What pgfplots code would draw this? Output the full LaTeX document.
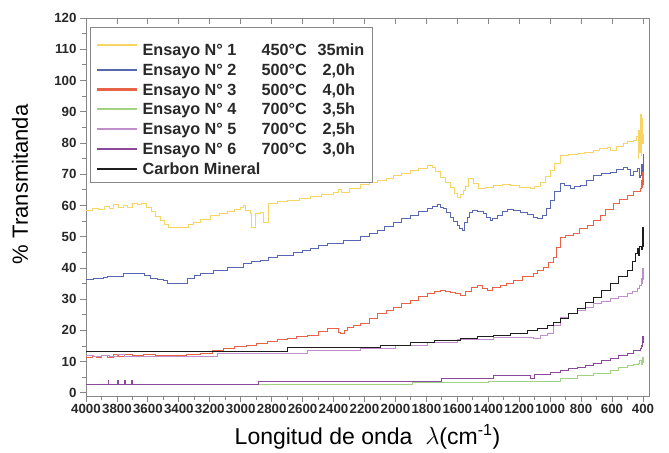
\documentclass[border=0pt]{standalone}
\usepackage{pgfplots}
\pgfplotsset{compat=1.18}
\usepackage{fontspec}
\setmainfont{Liberation Sans}
\definecolor{c1}{RGB}{248,212,100}
\definecolor{c2}{RGB}{88,104,176}
\definecolor{c3}{RGB}{232,98,72}
\definecolor{c4}{RGB}{160,210,130}
\definecolor{c5}{RGB}{192,142,202}
\definecolor{c6}{RGB}{140,72,155}
\definecolor{c7}{RGB}{30,30,30}
\definecolor{framegray}{RGB}{135,135,135}
\definecolor{labgray}{RGB}{40,40,40}
\pgfplotsset{
  leg/.style={legend image code/.code={\draw[#1,line width=2.2pt] (0pt,0.5pt) -- (40pt,0.5pt);}},
}
\newcommand{\ent}[3]{\hspace{2pt}\makebox[119pt][l]{#1}\makebox[56pt][l]{#2}#3}
\begin{document}
\begin{tikzpicture}
\begin{axis}[name=main,
  scale only axis, width=563pt, height=378pt,
  xmin=361, xmax=4000, ymin=-1, ymax=120, x dir=reverse,
  xtick={400,600,...,4000}, minor x tick num=1,
  ytick={0,10,...,120}, minor y tick num=1,
  xtick pos=bottom, ytick pos=left, tick align=outside,
  major tick length=6pt, minor tick length=3.5pt,
  axis line style={draw=framegray, line width=0.9pt},
  every tick/.style={draw=framegray, line width=0.8pt},
  tick label style={font=\fontsize{13.3}{15}\selectfont\bfseries, text=labgray},
  xticklabel style={inner xsep=0pt, inner ysep=2pt},
  /pgf/number format/assume math mode=true, /pgf/number format/1000 sep={},
  scaled x ticks=false, scaled y ticks=false,
  xlabel={Longitud de onda \ $\lambda$(cm\textsuperscript{-1})},
  ylabel={\% Transmitanda},
  xlabel style={font=\fontsize{23}{26}\selectfont, at={(axis description cs:0.5,-0.108)}, anchor=center},
  ylabel style={font=\fontsize{22}{25}\selectfont, at={(axis description cs:-0.117,0.56)}, anchor=center},
  legend style={at={(axis description cs:0.0071,0.976)}, anchor=north west,
    draw=framegray, line width=0.8pt, fill=white,
    font=\fontsize{16.2}{18}\selectfont\bfseries, text=labgray,
    inner xsep=6pt, inner ysep=4.5pt, row sep=2.6pt},
  legend cell align=left,
  every axis plot/.append style={const plot, line width=0.8pt},
]
\addplot[c1, leg=c1] coordinates {
(4000,58.5)(3960,59.2)(3920,58.6)(3880,59.6)(3850,58.9)(3820,60.2)(3790,59.4)(3760,60.0)(3730,59.3)(3700,60.7)(3670,60.2)(3640,60.5)(3610,59.4)(3580,58.0)(3550,56.5)(3520,55.3)(3490,54.0)(3470,53.0)(3380,53.0)(3340,53.8)(3308,54.6)(3260,55.6)(3198,56.9)(3140,57.6)(3089,58.1)(3040,58.8)(3005,59.4)(2985,60.0)(2970,58.5)(2940,57.5)(2930,53.0)(2915,53.0)(2908,57.5)(2875,57.8)(2855,54.6)(2845,54.6)(2823,60.7)(2760,61.2)(2700,61.6)(2620,62.3)(2552,62.9)(2480,63.5)(2403,64.2)(2370,65.0)(2350,64.3)(2300,65.6)(2229,66.8)(2170,67.5)(2119,68.0)(2060,68.8)(2015,69.7)(1960,70.4)(1906,71.3)(1850,72.0)(1796,72.8)(1763,72.3)(1740,70.8)(1712,69.0)(1680,67.3)(1647,65.8)(1620,64.0)(1602,62.7)(1580,63.5)(1563,64.8)(1545,66.0)(1531,68.6)(1498,67.0)(1466,65.5)(1420,65.9)(1369,66.4)(1310,66.8)(1259,66.4)(1200,65.8)(1130,65.5)(1100,66.2)(1065,67.4)(1030,69.2)(1001,71.3)(970,73.5)(936,76.0)(880,76.3)(826,76.6)(780,77.0)(723,77.6)(680,78.1)(632,78.6)(613,77.6)(570,78.9)(529,79.9)(500,80.4)(464,80.8)(440,82.0)(432,75.0)(428,84.0)(422,77.0)(418,89.0)(412,76.0)(408,88.0)(404,80.0)(400,83.0)
};
\addlegendentry{\rule[-3.5pt]{0pt}{25pt}\ent{Ensayo N° 1}{450°C}{35min}}
\addplot[c2, leg=c2] coordinates {
(4000,36.3)(3950,36.5)(3890,36.9)(3860,37.2)(3800,37.4)(3761,38.3)(3700,38.3)(3651,38.3)(3620,37.5)(3586,36.7)(3540,36.3)(3502,36.0)(3476,35.1)(3392,35.2)(3347,36.7)(3300,37.5)(3263,38.3)(3179,39.3)(3089,40.2)(2985,41.5)(2930,42.0)(2875,42.5)(2820,43.3)(2765,44.1)(2662,45.0)(2600,45.7)(2552,46.3)(2500,47.1)(2442,47.9)(2339,48.9)(2229,50.2)(2170,51.2)(2119,52.0)(2070,53.3)(2015,54.6)(1960,55.7)(1906,56.9)(1850,58.0)(1796,59.1)(1760,59.8)(1731,60.3)(1710,59.4)(1692,59.1)(1670,57.8)(1647,56.3)(1625,55.0)(1602,53.7)(1585,52.8)(1570,52.0)(1555,54.5)(1537,56.3)(1520,57.8)(1505,58.5)(1470,58.2)(1434,57.5)(1410,56.3)(1389,55.3)(1370,56.0)(1343,56.9)(1310,58.0)(1279,58.8)(1240,58.4)(1195,57.8)(1150,57.0)(1111,56.3)(1080,56.0)(1052,56.9)(1025,59.0)(1001,61.6)(970,64.5)(936,67.0)(905,66.4)(872,65.5)(840,66.0)(807,66.4)(765,68.0)(723,69.7)(670,70.2)(613,70.6)(570,71.5)(529,72.3)(500,71.5)(484,69.7)(460,71.0)(439,71.9)(425,69.0)(419,69.5)(412,73.0)(405,71.0)(400,76.6)
};
\addlegendentry{\rule[-3.5pt]{0pt}{15pt}\ent{Ensayo N° 2}{500°C}{\hspace{5pt}2,0h}}
\addplot[c3, leg=c3] coordinates {
(4000,11.2)(3960,11.8)(3930,11.3)(3900,12.0)(3860,11.5)(3820,12.2)(3790,11.7)(3750,12.3)(3700,12.0)(3632,12.4)(3550,12.1)(3457,12.1)(3350,12.4)(3263,12.7)(3180,13.5)(3114,14.3)(3040,14.8)(2960,15.3)(2900,15.9)(2830,16.5)(2760,17.0)(2701,17.5)(2640,18.0)(2572,18.5)(2500,19.6)(2442,20.7)(2400,20.7)(2370,19.5)(2358,19.1)(2330,20.0)(2313,21.0)(2270,21.7)(2229,22.4)(2170,24.0)(2119,25.5)(2060,26.5)(2015,27.4)(1960,28.5)(1906,29.7)(1850,30.8)(1796,31.9)(1750,32.5)(1712,32.9)(1680,32.6)(1647,32.2)(1610,31.8)(1582,31.3)(1550,32.5)(1510,33.8)(1473,34.5)(1440,33.6)(1408,32.9)(1370,33.8)(1324,34.5)(1280,35.2)(1240,36.0)(1180,37.2)(1111,38.3)(1080,39.2)(1046,40.2)(1010,41.8)(982,43.4)(960,46.5)(936,49.8)(900,50.5)(852,51.1)(810,52.5)(762,53.7)(720,55.3)(678,56.9)(640,58.8)(593,60.7)(550,62.0)(503,63.3)(460,64.4)(419,65.5)(410,68.0)(405,65.8)(402,70.6)(400,66.4)
};
\addlegendentry{\rule[-3.5pt]{0pt}{15pt}\ent{Ensayo N° 3}{500°C}{\hspace{5pt}4,0h}}
\addplot[c4, leg=c4] coordinates {
(4000,2.8)(1893,3.5)(1400,3.6)(1000,3.8)(936,4.7)(826,5.7)(794,5.7)(723,6.3)(613,7.3)(560,8.0)(503,8.9)(460,9.0)(430,9.5)(420,10.5)(410,9.2)(404,11.5)(400,9.5)
};
\addlegendentry{\rule[-3.5pt]{0pt}{15pt}\ent{Ensayo N° 4}{700°C}{\hspace{5pt}3,5h}}
\addplot[c5, leg=c5] coordinates {
(4000,12.0)(3950,11.6)(3900,12.1)(3850,11.7)(3800,12.2)(3750,11.8)(3632,11.7)(3153,12.7)(2572,13.6)(2229,14.3)(2000,15.2)(1796,16.2)(1600,17.0)(1369,17.8)(1250,17.8)(1111,17.5)(1060,18.3)(1020,19.1)(980,21.5)(936,24.2)(880,25.3)(826,26.4)(770,27.5)(723,28.6)(670,29.4)(613,30.2)(560,31.0)(503,31.8)(470,32.6)(439,33.4)(420,34.5)(410,36.8)(404,35.0)(402,39.9)(400,36.0)
};
\addlegendentry{\rule[-3.5pt]{0pt}{15pt}\ent{Ensayo N° 5}{700°C}{\hspace{5pt}2,5h}}
\addplot[c6, leg=c6] coordinates {
(4000,2.8)(3860,2.8)(3858,3.9)(3855,2.8)(3795,3.9)(3792,2.8)(3750,3.9)(3747,2.8)(3705,3.9)(3702,2.8)(2888,3.8)(2229,3.8)(1900,3.8)(1700,4.5)(1369,5.7)(1200,5.7)(1130,4.7)(1100,5.8)(1000,6.5)(936,7.3)(880,7.8)(826,8.3)(770,8.9)(723,9.5)(670,10.3)(613,11.1)(560,11.9)(503,12.7)(460,13.5)(419,14.3)(410,15.2)(404,15.0)(402,18.0)(400,15.9)
};
\addlegendentry{\rule[-3.5pt]{0pt}{15pt}\ent{Ensayo N° 6}{700°C}{\hspace{5pt}3,0h}}
\addplot[c7, leg=c7] coordinates {
(4000,13.3)(2700,14.6)(2229,14.7)(2100,15.2)(1906,16.2)(1750,16.8)(1582,17.5)(1470,18.0)(1369,18.5)(1260,19.2)(1150,20.0)(1080,20.8)(1020,21.6)(980,22.6)(936,23.9)(880,25.4)(826,27.1)(770,28.9)(723,30.6)(670,32.8)(613,35.1)(560,37.2)(503,39.3)(470,42.0)(450,44.5)(439,46.3)(430,44.0)(420,47.0)(410,46.0)(405,49.0)(402,53.0)(400,46.6)
};
\addlegendentry{\rule[-3.5pt]{0pt}{15pt}\hspace{2pt}Carbon Mineral}
\end{axis}
\begin{axis}[at={(main.south west)}, anchor=south west,
  scale only axis, width=563pt, height=378pt,
  xmin=361, xmax=4000, ymin=-1, ymax=120, x dir=reverse,
  axis x line*=top, hide y axis,
  xtick={400,600,...,4000}, xticklabels={}, tick align=inside,
  major tick length=6pt,
  axis line style={draw=framegray, line width=0.9pt},
  every tick/.style={draw=framegray, line width=0.8pt},
]
\end{axis}
\path ([shift={(-86pt,-56pt)}]main.south west) rectangle ([shift={(20pt,18pt)}]main.north east);
\end{tikzpicture}
\end{document}
